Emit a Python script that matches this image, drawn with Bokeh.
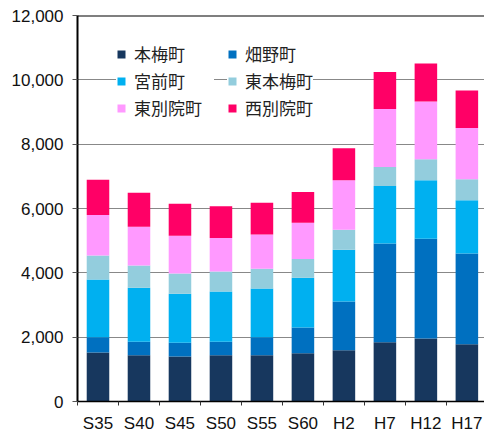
from bokeh.plotting import figure
from bokeh.models import (Range1d, FixedTicker, NumeralTickFormatter, Legend,
                          LegendItem, Span, ColumnDataSource)
from bokeh.embed import file_html
from bokeh.resources import INLINE

periods = ["S35", "S40", "S45", "S50", "S55", "S60", "H2", "H7", "H12", "H17"]
towns = ["本梅町", "畑野町", "宮前町", "東本梅町", "東別院町", "西別院町"]
honume = [1520, 1440, 1400, 1440, 1440, 1500, 1590, 1840, 1960, 1780]
hatano = [480, 420, 430, 420, 560, 800, 1520, 3070, 3100, 2820]
miyamae = [1790, 1680, 1520, 1560, 1510, 1550, 1610, 1790, 1820, 1660]
higashi_honume = [750, 690, 630, 620, 620, 580, 620, 590, 650, 650]
higashi_betsuin = [1260, 1200, 1170, 1040, 1060, 1130, 1540, 1800, 1800, 1590]
nishi_betsuin = [1090, 1060, 1000, 990, 990, 950, 990, 1150, 1180, 1170]
colors = ["#17375E", "#0070C0", "#00B0F0", "#93CDDD", "#FF99FF", "#FF0066"]
y_ticks = [0, 2000, 4000, 6000, 8000, 10000, 12000]

keys = ["s0", "s1", "s2", "s3", "s4", "s5"]
xs = [i + 0.5 for i in range(len(periods))]
source = ColumnDataSource(dict(x=xs, s0=honume, s1=hatano, s2=miyamae,
                               s3=higashi_honume, s4=higashi_betsuin,
                               s5=nishi_betsuin))

p = figure(width=484, height=435, output_backend="svg", toolbar_location=None,
           x_range=Range1d(0, 9.93), y_range=Range1d(0, 12000),
           min_border_left=77, min_border_right=0, min_border_top=15,
           min_border_bottom=30)
p.outline_line_color = None
p.background_fill_color = "white"
p.border_fill_color = "white"

rs = p.vbar_stack(keys, x="x", width=0.55, color=colors, line_color=None,
                  source=source)

p.xgrid.grid_line_color = None
p.ygrid.grid_line_color = "#888888"
p.ygrid.grid_line_width = 1
p.ygrid.ticker = FixedTicker(ticks=y_ticks)

p.yaxis.ticker = FixedTicker(ticks=y_ticks)
p.yaxis.formatter = NumeralTickFormatter(format="0,0")
p.yaxis.axis_line_color = "black"
p.yaxis.axis_line_width = 2
p.yaxis.major_tick_out = 5
p.yaxis.major_tick_in = 0
p.yaxis.minor_tick_out = 0
p.yaxis.major_tick_line_color = "#555555"
p.yaxis.major_label_standoff = 9
p.yaxis.major_label_text_font = "Liberation Sans"
p.yaxis.major_label_text_font_size = "17px"
p.yaxis.major_label_text_color = "#111111"

p.xaxis.ticker = FixedTicker(ticks=xs, minor_ticks=list(range(len(periods) + 1)))
p.xaxis.major_label_overrides = {x: lab for x, lab in zip(xs, periods)}
p.xaxis.axis_line_color = "black"
p.xaxis.axis_line_width = 1.5
p.xaxis.major_tick_out = 0
p.xaxis.major_tick_in = 0
p.xaxis.minor_tick_out = 4
p.xaxis.minor_tick_in = 0
p.xaxis.minor_tick_line_color = "#333333"
p.xaxis.major_label_standoff = 8
p.xaxis.major_label_text_font = "Liberation Sans"
p.xaxis.major_label_text_font_size = "17px"
p.xaxis.major_label_text_line_height = 1.0
p.xaxis.major_label_text_color = "#111111"

p.add_layout(Span(location=12000, dimension="width", line_color="black",
                  line_width=2))

def make_legend(idx, loc, lw):
    leg = Legend(items=[LegendItem(label=towns[i], renderers=[rs[i]]) for i in idx],
                 location=loc, orientation="vertical",
                 glyph_width=10, glyph_height=10, label_height=20,
                 label_width=lw, spacing=2, padding=12, label_standoff=8,
                 label_text_font="Noto Sans CJK JP", label_text_font_size="17px",
                 label_text_color="#222222",
                 background_fill_color="white", background_fill_alpha=1.0,
                 border_line_color=None, margin=0)
    return leg

p.add_layout(make_legend([0, 2, 4], (39, 281), 80), "center")
p.add_layout(make_legend([1, 3, 5], (150, 281), 20), "center")

open("out.html", "w").write(file_html(p, INLINE))
